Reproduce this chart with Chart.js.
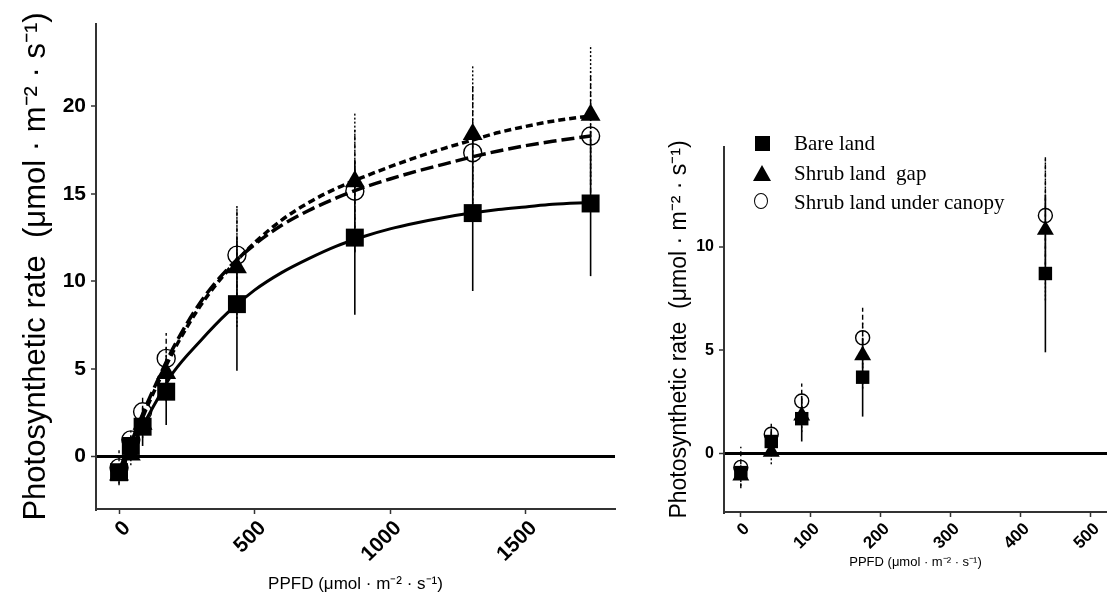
<!DOCTYPE html>
<html><head><meta charset="utf-8">
<script src="https://cdn.jsdelivr.net/npm/chart.js@4.4.0/dist/chart.umd.min.js"></script>
<style>
html,body{margin:0;padding:0;background:#fff;}
body{width:1107px;height:608px;position:relative;overflow:hidden;}
#lw{position:absolute;left:0;top:0;width:640px;height:608px;}
#rw{position:absolute;left:640px;top:0;width:467px;height:608px;}
.lg{position:absolute;font-family:'Liberation Serif','Times New Roman',serif;font-size:21px;line-height:26px;color:#000;white-space:pre;}
#sq{position:absolute;left:755px;top:136px;width:15px;height:15px;background:#000;}
#tri{position:absolute;left:753px;top:165px;width:0;height:0;border-left:9px solid transparent;border-right:9px solid transparent;border-bottom:16px solid #000;}
#cir{position:absolute;left:754px;top:193px;width:14px;height:16px;border:1.5px solid #000;border-radius:50%;box-sizing:border-box;}
</style></head>
<body>
<div id="lw"><canvas id="left"></canvas></div>
<div id="rw"><canvas id="right"></canvas></div>
<div id="sq"></div><div id="tri"></div><div id="cir"></div>
<div class="lg" style="left:794px;top:130px;">Bare land</div>
<div class="lg" style="left:794px;top:160px;">Shrub land  gap</div>
<div class="lg" style="left:794px;top:189px;">Shrub land under canopy</div>
<script>
// ---- data ----
const ppfd = [0, 43.5, 87, 174, 435, 870, 1305, 1740];
const bareLand = [-0.9, 0.6, 1.7, 3.7, 8.7, 12.5, 13.9, 14.45];
const bareLandSD = [0.3, 0.6, 1.1, 1.9, 3.8, 4.4, 4.45, 4.15];
const shrubGap = [-1.05, 0.1, 1.85, 4.75, 10.8, 15.7, 18.4, 19.5];
const shrubGapSD = [0.5, 0.6, 0.8, 1.6, 3.4, 4.0, 4.0, 4.0];
const shrubCanopy = [-0.65, 0.95, 2.55, 5.6, 11.5, 15.15, 17.35, 18.3];
const shrubCanopySD = [1.0, 0.5, 0.85, 1.45, 2.8, 3.5, 3.8, 3.7];

// fitted light-response curves at these PPFD values
const fitX = [0, 50, 100, 150, 200, 300, 400, 500, 600, 700, 800, 900, 1000, 1100, 1200, 1300, 1400, 1500, 1600, 1740];
const bareFit = [-1.0, 0.6, 2.1, 3.5, 4.8, 6.6, 8.2, 9.5, 10.5, 11.3, 12.0, 12.55, 13.0, 13.35, 13.65, 13.9, 14.1, 14.25, 14.4, 14.5];
const gapFit = [-1.2, 0.8, 2.7, 4.4, 6.0, 8.6, 10.6, 12.2, 13.5, 14.5, 15.3, 15.95, 16.55, 17.1, 17.6, 18.05, 18.5, 18.85, 19.15, 19.45];
const canopyFit = [-0.8, 1.0, 2.9, 4.6, 6.2, 8.8, 10.7, 12.1, 13.2, 14.05, 14.75, 15.35, 15.85, 16.3, 16.7, 17.1, 17.45, 17.75, 18.0, 18.3];

const leftXTicks = [0, 500, 1000, 1500];
const leftYTicks = [0, 5, 10, 15, 20];
const rightXTicks = [0, 100, 200, 300, 400, 500];
const rightYTicks = [0, 5, 10];

const yTitle = 'Photosynthetic rate  (\u03bcmol \u00b7 m\u207b\u00b2 \u00b7 s\u207b\u00b9)';
const xTitle = 'PPFD (\u03bcmol \u00b7 m\u207b\u00b2 \u00b7 s\u207b\u00b9)';
const SANS = "'Liberation Sans', Arial, Helvetica, sans-serif";

function pts(xs, ys, maxX) {
  const out = [];
  xs.forEach((x, i) => { if (maxX === undefined || x <= maxX) out.push({x: x, y: ys[i]}); });
  return out;
}

const errorBars = {
  id: 'errorBars',
  beforeDatasetsDraw(chart) {
    const ctx = chart.ctx, xs = chart.scales.x, ys = chart.scales.y, a = chart.chartArea;
    ctx.save();
    ctx.beginPath(); ctx.rect(a.left, a.top, a.right - a.left, a.bottom - a.top); ctx.clip();
    chart.data.datasets.forEach(ds => {
      if (!ds.errors) return;
      ctx.strokeStyle = '#000';
      ctx.lineWidth = ds.errWidth;
      ctx.setLineDash(ds.errDash);
      ds.data.forEach((p, j) => {
        const sd = ds.errors[j];
        const px = xs.getPixelForValue(p.x);
        ctx.beginPath();
        ctx.moveTo(px, ys.getPixelForValue(p.y - sd));
        ctx.lineTo(px, ys.getPixelForValue(p.y + sd));
        ctx.stroke();
      });
    });
    ctx.restore();
  }
};

function scales(o) {
  return {
    x: {
      type: 'linear', min: o.xmin, max: o.xmax,
      afterBuildTicks: s => { s.ticks = o.xticks.map(v => ({value: v})); },
      afterFit: s => { s.height = o.xh; s.paddingLeft = 0; s.paddingRight = 0; },
      grid: {display: true, drawOnChartArea: false, drawTicks: true, tickLength: 5, tickColor: '#333', tickWidth: 1.5, color: '#333'},
      border: {display: true, color: '#333', width: 2},
      ticks: {color: '#000', font: {family: SANS, size: o.xtf, weight: 'bold'}, maxRotation: 45, minRotation: 45, padding: 2, labelOffset: o.xlo, autoSkip: false, callback: v => String(v)},
      title: {display: true, text: xTitle, color: '#000', font: {family: SANS, size: o.xtitf}, padding: {top: 0, bottom: o.xtitpad}}
    },
    y: {
      type: 'linear', min: o.ymin, max: o.ymax,
      afterBuildTicks: s => { s.ticks = o.yticks.map(v => ({value: v})); },
      afterFit: s => { s.width = o.yw; s.paddingTop = 0; s.paddingBottom = 0; },
      grid: {display: true, drawOnChartArea: true, drawTicks: true, tickLength: 5, tickColor: '#333', tickWidth: 1.5,
             color: c => (c.tick && c.tick.value === 0) ? '#000' : 'rgba(0,0,0,0)',
             lineWidth: c => (c.tick && c.tick.value === 0) ? 3 : 0},
      border: {display: true, color: '#333', width: 2},
      ticks: {color: '#000', font: {family: SANS, size: o.ytf, weight: 'bold'}, padding: 5, autoSkip: false, callback: v => String(v)},
      title: {display: true, text: yTitle, color: '#000', font: {family: SANS, size: o.ytitf}, padding: {top: o.ytitpad, bottom: 0}}
    }
  };
}

function pointSets(maxX, sz) {
  return [
    {type: 'scatter', label: 'Bare land', data: pts(ppfd, bareLand, maxX), errors: bareLandSD, errWidth: 1.6, errDash: [],
     pointStyle: 'rect', pointRadius: sz.sq, backgroundColor: '#000', borderColor: '#000', borderWidth: 0, order: 2},
    {type: 'scatter', label: 'Shrub land  gap', data: pts(ppfd, shrubGap, maxX), errors: shrubGapSD, errWidth: 1.4, errDash: [2, 2],
     pointStyle: 'triangle', pointRadius: sz.tri, backgroundColor: '#000', borderColor: '#000', borderWidth: 0, order: 1},
    {type: 'scatter', label: 'Shrub land under canopy', data: pts(ppfd, shrubCanopy, maxX), errors: shrubCanopySD, errWidth: 1.4, errDash: [5, 3],
     pointStyle: 'circle', pointRadius: sz.cir, backgroundColor: 'rgba(0,0,0,0)', borderColor: '#000', borderWidth: 1.4, order: 0}
  ];
}

const common = {
  responsive: true, maintainAspectRatio: false, animation: false,
  plugins: {legend: {display: false}, tooltip: {enabled: false}}
};

new Chart(document.getElementById('left'), {
  type: 'scatter',
  data: {datasets: [
    {type: 'line', label: 'bare fit', data: pts(fitX, bareFit), borderColor: '#000', borderWidth: 3, pointRadius: 0, fill: false, cubicInterpolationMode: 'monotone', order: 5},
    {type: 'line', label: 'gap fit', data: pts(fitX, gapFit), borderColor: '#000', borderWidth: 3.5, borderDash: [7, 4], pointRadius: 0, fill: false, cubicInterpolationMode: 'monotone', order: 5},
    {type: 'line', label: 'canopy fit', data: pts(fitX, canopyFit), borderColor: '#000', borderWidth: 3.5, borderDash: [13, 5], pointRadius: 0, fill: false, cubicInterpolationMode: 'monotone', order: 5}
  ].concat(pointSets(undefined, {sq: 12.7, tri: 11.5, cir: 9}))},
  options: Object.assign({}, common, {
    layout: {autoPadding: false, padding: {left: 0, top: 24, right: 25, bottom: 0}},
    scales: scales({xmin: -85, xmax: 1830, xticks: leftXTicks, xh: 99, xtf: 21, xtitf: 17, xtitpad: 13, xlo: 8,
                    ymin: -3, ymax: 24.7, yticks: leftYTicks, yw: 96, ytf: 21, ytitf: 31, ytitpad: 18})
  }),
  plugins: [errorBars]
});

new Chart(document.getElementById('right'), {
  type: 'scatter',
  data: {datasets: pointSets(500, {sq: 9.5, tri: 9.8, cir: 7})},
  options: Object.assign({}, common, {
    layout: {autoPadding: false, padding: {left: 0, top: 147, right: 0, bottom: 0}},
    scales: scales({xmin: -24, xmax: 523, xticks: rightXTicks, xh: 96, xtf: 17, xtitf: 13, xtitpad: 38, xlo: 6,
                    ymin: -2.8, ymax: 14.8, yticks: rightYTicks, yw: 84, ytf: 16, ytitf: 23, ytitpad: 26})
  }),
  plugins: [errorBars]
});
</script>
</body></html>
